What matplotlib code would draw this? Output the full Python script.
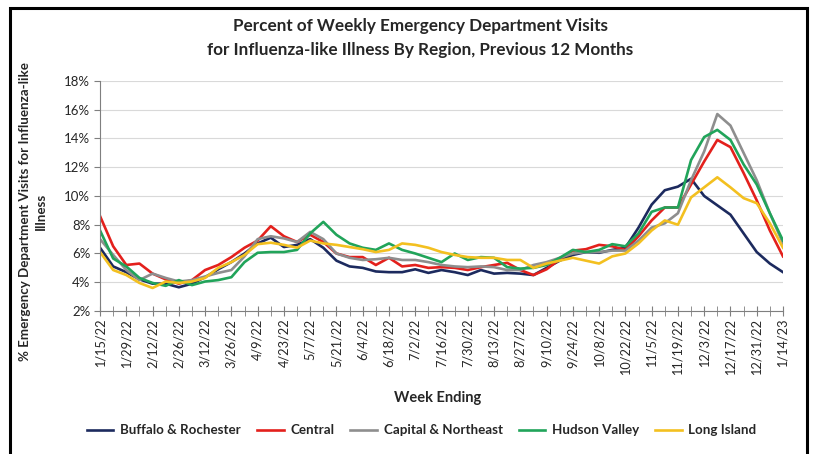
import matplotlib
matplotlib.use("Agg")
import matplotlib.pyplot as plt
from matplotlib.patches import Rectangle
import numpy as np

# weekly values, week ending 1/15/22 .. 1/14/23 (53 weeks)
buffalo = [6.4, 5.1, 4.7, 4.2, 3.9, 3.9, 3.65, 3.9, 4.35, 4.9, 5.4, 6.0, 6.7, 7.1, 6.45,
           6.6, 7.0, 6.4, 5.5, 5.1, 5.0, 4.75, 4.7, 4.7, 4.9, 4.65, 4.85, 4.7, 4.5, 4.85,
           4.6, 4.65, 4.6, 4.5, 5.0, 5.5, 5.9, 6.1, 6.05, 6.25, 6.4, 7.8, 9.4, 10.4, 10.65,
           11.2, 10.0, 9.35, 8.7, 7.4, 6.1, 5.3, 4.7]
central = [8.6, 6.5, 5.2, 5.3, 4.6, 4.2, 3.9, 4.15, 4.85, 5.2, 5.75, 6.4, 6.9, 7.9, 7.2,
           6.8, 7.3, 6.8, 6.0, 5.75, 5.75, 5.2, 5.7, 5.1, 5.2, 5.0, 5.05, 5.0, 4.85, 5.05,
           5.2, 5.35, 4.85, 4.5, 4.9, 5.6, 6.2, 6.3, 6.6, 6.5, 6.25, 7.2, 8.3, 9.2, 9.2,
           10.8, 12.4, 13.9, 13.4, 11.6, 9.7, 7.6, 5.8]
capital = [7.0, 5.9, 4.85, 4.15, 4.6, 4.3, 4.05, 4.15, 4.4, 4.65, 4.85, 5.8, 7.0, 7.2, 7.05,
           6.8, 7.5, 7.0, 6.0, 5.7, 5.55, 5.6, 5.7, 5.55, 5.55, 5.4, 5.2, 5.1, 5.05, 5.1,
           5.05, 4.85, 4.85, 5.2, 5.4, 5.7, 6.0, 6.1, 6.1, 6.2, 6.2, 6.9, 7.8, 8.1, 8.8,
           11.1, 13.1, 15.7, 14.9, 13.0, 11.1, 8.8, 6.7]
hudson = [7.6, 5.65, 5.1, 4.3, 3.95, 3.75, 4.15, 3.8, 4.05, 4.15, 4.35, 5.4, 6.05, 6.1, 6.1,
          6.25, 7.4, 8.2, 7.3, 6.7, 6.4, 6.25, 6.7, 6.25, 6.0, 5.7, 5.4, 6.0, 5.55, 5.75,
          5.7, 5.05, 4.95, 5.0, 5.2, 5.7, 6.25, 6.1, 6.25, 6.65, 6.5, 7.4, 8.9, 9.2, 9.2,
          12.5, 14.1, 14.6, 13.9, 12.2, 10.8, 8.8, 6.9]
long_island = [6.1, 4.85, 4.5, 3.95, 3.6, 4.05, 3.95, 4.05, 4.3, 5.0, 5.4, 5.9, 6.65, 6.75, 6.6,
               6.4, 6.9, 6.7, 6.6, 6.45, 6.3, 6.1, 6.25, 6.7, 6.6, 6.4, 6.1, 5.9, 5.75, 5.7,
               5.7, 5.55, 5.55, 5.0, 5.3, 5.5, 5.7, 5.5, 5.3, 5.8, 6.0, 6.7, 7.6, 8.3, 8.0,
               9.9, 10.6, 11.3, 10.6, 9.85, 9.5, 8.1, 6.4]

series_names = ["Buffalo & Rochester", "Central", "Capital & Northeast", "Hudson Valley", "Long Island"]
series_colors = ["#1c2a5e", "#e3201c", "#8e8e8e", "#21a45a", "#f3c020"]

# tick labels, every second week
tick_labels = ["1/15/22", "1/29/22", "2/12/22", "2/26/22", "3/12/22", "3/26/22", "4/9/22",
               "4/23/22", "5/7/22", "5/21/22", "6/4/22", "6/18/22", "7/2/22", "7/16/22",
               "7/30/22", "8/13/22", "8/27/22", "9/10/22", "9/24/22", "10/8/22", "10/22/22",
               "11/5/22", "11/19/22", "12/3/22", "12/17/22", "12/31/22", "1/14/23"]

plt.rcParams['font.family'] = ['Lato', 'DejaVu Sans']
text_color = "#262626"

fig = plt.figure(figsize=(8.14, 4.54), dpi=100)
ax = fig.add_axes([0.1229, 0.315, 0.839, 0.5066])

weeks = np.arange(len(buffalo))
for vals, name, col in zip([buffalo, central, capital, hudson, long_island], series_names, series_colors):
    ax.plot(weeks, vals, color=col, linewidth=1.9, label=name, solid_joinstyle='round')

ax.set_xlim(0, len(buffalo) - 1)
ax.set_ylim(2, 18)
ax.set_yticks(np.arange(2, 19, 2))
ax.set_yticklabels([f"{v}%" for v in range(2, 19, 2)])
ax.set_xticks(np.arange(0, len(buffalo), 2))
ax.set_xticklabels(tick_labels, rotation=90)
ax.set_xticks(weeks, minor=True)

ax.grid(axis='y', color='#d9d9d9', linewidth=0.8)
ax.set_axisbelow(True)
for side in ['top', 'right']:
    ax.spines[side].set_visible(False)
ax.spines['left'].set_color('#7f7f7f')
ax.spines['bottom'].set_color('#7f7f7f')
ax.tick_params(axis='y', length=4, color='#7f7f7f', labelsize=9.5, labelcolor=text_color, pad=3)
ax.tick_params(axis='x', which='both', direction='inout', length=7, color='#7f7f7f',
               labelsize=9.2, labelcolor=text_color, pad=2)

fig.text(0.516, 0.943, "Percent of Weekly Emergency Department Visits", ha='center', va='center',
         fontsize=12.3, fontweight='bold', color=text_color)
fig.text(0.516, 0.89, "for Influenza-like Illness By Region, Previous 12 Months", ha='center', va='center',
         fontsize=12.3, fontweight='bold', color=text_color)

fig.text(0.031, 0.535, "% Emergency Department Visits for Influenza-like", rotation=90,
         ha='center', va='center', fontsize=9.6, fontweight='bold', color=text_color)
fig.text(0.050, 0.535, "Illness", rotation=90, ha='center', va='center',
         fontsize=9.6, fontweight='bold', color=text_color)

fig.text(0.538, 0.123, "Week Ending", ha='center', va='center', fontsize=10.5,
         fontweight='bold', color=text_color)

fig.legend(loc='center', bbox_to_anchor=(0.518, 0.052), ncol=5, frameon=False,
           prop={'size': 9.6, 'weight': 'bold'}, handlelength=2.0, columnspacing=1.2,
           handletextpad=0.5, labelcolor=text_color)

fig.patches.append(Rectangle((0.0123, -0.05), 0.9785, 1.032, transform=fig.transFigure,
                             fill=False, edgecolor='black', linewidth=2.2))

fig.savefig("out.png", dpi=100)
